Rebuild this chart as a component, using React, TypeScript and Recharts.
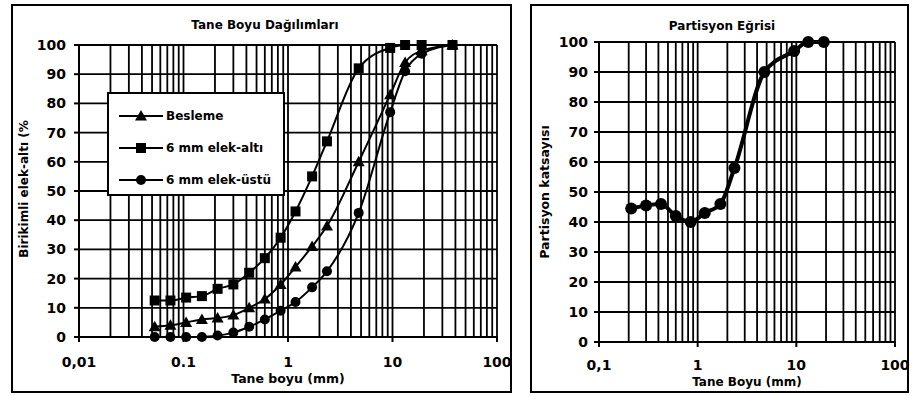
import React from "react";
import {
  LineChart,
  Line,
  XAxis,
  YAxis,
  CartesianGrid,
  Legend,
} from "recharts";

// sieve openings (mm) and cumulative passing (%)
const sieveSizes = [0.053, 0.075, 0.106, 0.15, 0.212, 0.3, 0.425, 0.6, 0.85, 1.18, 1.7, 2.36, 4.75, 9.5, 13.2, 19, 37.5];
const feedPassing = [3.5, 4, 5, 6, 6.5, 7.5, 10, 13, 18, 24, 31, 38, 60, 83, 94, 98, 100];
const undersizePassing = [12.5, 12.5, 13.5, 14, 16.5, 18, 22, 27, 34, 43, 55, 67, 92, 99, 100, 100, 100];
const oversizePassing = [0, 0, 0, 0, 0.5, 1.5, 3.5, 6, 9, 12, 17, 22.5, 42.5, 77, 91, 97, 100];

// partition curve
const partitionSizes = [0.212, 0.3, 0.425, 0.6, 0.85, 1.18, 1.7, 2.36, 4.75, 9.5, 13.2, 19];
const partitionCoef = [44.5, 45.5, 46, 42, 40, 43, 46, 58, 90, 97, 100, 100];

const leftDecades = [0.01, 0.1, 1, 10, 100];
const leftDecadeLabels = ["0,01", "0.1", "1", "10", "100"];
const rightDecades = [0.1, 1, 10, 100];
const rightDecadeLabels = ["0,1", "1", "10", "100"];
const yTicks = [0, 10, 20, 30, 40, 50, 60, 70, 80, 90, 100];

const FONT = "DejaVu Sans, Verdana, sans-serif";

const distData = sieveSizes.map((s, i) => ({
  size: s,
  feed: feedPassing[i],
  under: undersizePassing[i],
  over: oversizePassing[i],
}));
const partData = partitionSizes.map((s, i) => ({ size: s, coef: partitionCoef[i] }));

const logGrid = (decades: number[]) =>
  decades
    .slice(0, -1)
    .flatMap((d) => [1, 2, 3, 4, 5, 6, 7, 8, 9].map((k) => +(d * k).toPrecision(3)))
    .concat(decades[decades.length - 1]);

function Marker({ cx, cy, shape, size }: { cx: number; cy: number; shape: string; size: number }) {
  if (cx == null || cy == null) return null;
  const h = size / 2;
  if (shape === "square") return <rect x={cx - h} y={cy - h} width={size} height={size} fill="#000" />;
  if (shape === "triangle")
    return <polygon points={`${cx},${cy - size * 0.6} ${cx - h - 1},${cy + size * 0.45} ${cx + h + 1},${cy + size * 0.45}`} fill="#000" />;
  return <circle cx={cx} cy={cy} r={h} fill="#000" />;
}

const dotOf = (shape: string, size: number) => (p: any) =>
  <Marker key={`${shape}-${p.index}`} cx={p.cx} cy={p.cy} shape={shape} size={size} />;

function DecadeTick(props: any) {
  const { x, y, payload, decades, labels, gap } = props;
  const i = decades.findIndex((d: number) => Math.abs(d - payload.value) / d < 1e-6);
  if (i < 0) return <g />;
  const axisY = y - 8;
  return (
    <g>
      <line x1={x} x2={x} y1={axisY} y2={axisY + 5} stroke="#000" strokeWidth={2} />
      <text x={x} y={axisY + gap} textAnchor="middle" fill="#000" fontSize={14} fontWeight="bold" fontFamily={FONT}>
        {labels[i]}
      </text>
    </g>
  );
}

const legendItems = [
  { name: "Besleme", shape: "triangle" },
  { name: "6 mm elek-altı", shape: "square" },
  { name: "6 mm elek-üstü", shape: "circle" },
];

function BoxLegend() {
  return (
    <div
      style={{
        width: 178,
        height: 104,
        boxSizing: "border-box",
        border: "2px solid #000",
        background: "#fff",
        paddingTop: 6,
      }}
    >
      {legendItems.map((it) => (
        <div key={it.name} style={{ display: "flex", alignItems: "center", height: 32, paddingLeft: 8 }}>
          <svg width={48} height={16}>
            <line x1={2} x2={46} y1={8} y2={8} stroke="#000" strokeWidth={2} />
            <Marker cx={24} cy={8} shape={it.shape} size={10} />
          </svg>
          <span style={{ fontFamily: FONT, fontSize: 12, fontWeight: "bold", color: "#000", marginLeft: 1 }}>
            {it.name}
          </span>
        </div>
      ))}
    </div>
  );
}

function Caption({ x, y, size, rotate, children }: any) {
  return (
    <div
      style={{
        position: "absolute",
        left: x - 150,
        top: y - 10,
        width: 300,
        height: 20,
        lineHeight: "20px",
        textAlign: "center",
        fontFamily: FONT,
        fontSize: size,
        fontWeight: "bold",
        color: "#000",
        whiteSpace: "nowrap",
        transform: rotate ? "rotate(-90deg)" : undefined,
      }}
    >
      {children}
    </div>
  );
}

const panel = (left: number, width: number): React.CSSProperties => ({
  position: "absolute",
  left,
  top: 4,
  width,
  height: 389,
  boxSizing: "border-box",
  border: "2px solid #000",
});

const tickStyle = { fill: "#000", fontSize: 14, fontWeight: "bold", fontFamily: FONT };

export default function App() {
  const leftGrid = logGrid(leftDecades);
  const rightGrid = logGrid(rightDecades);
  return (
    <div style={{ position: "absolute", left: 0, top: 0, width: 912, height: 396, background: "#fff", overflow: "hidden" }}>
      <div style={panel(11, 501)} />
      <div style={panel(530, 379)} />

      <div style={{ position: "absolute", left: 0, top: 0 }}>
        <LineChart width={515} height={392} data={distData} margin={{ top: 45, right: 18, left: 29, bottom: 25 }}>
          <CartesianGrid stroke="#000" strokeWidth={1.8} />
          <XAxis
            dataKey="size"
            type="number"
            scale="log"
            domain={[0.01, 100]}
            allowDataOverflow
            ticks={leftGrid}
            interval={0}
            height={30}
            tickLine={false}
            tickSize={5}
            tickMargin={3}
            axisLine={{ stroke: "#000", strokeWidth: 2 }}
            tick={<DecadeTick decades={leftDecades} labels={leftDecadeLabels} gap={30} />}
          />
          <YAxis
            type="number"
            domain={[0, 100]}
            ticks={yTicks}
            interval={0}
            width={50}
            tickSize={5}
            tickMargin={8}
            tickLine={{ stroke: "#000", strokeWidth: 2 }}
            axisLine={{ stroke: "#000", strokeWidth: 2 }}
            tick={tickStyle}
          />
          <Legend
            layout="vertical"
            align="center"
            verticalAlign="middle"
            content={() => <BoxLegend />}
            wrapperStyle={{ left: 107, top: 92, width: 178, height: 104 }}
          />
          <Line dataKey="feed" name="Besleme" type="monotone" stroke="#000" strokeWidth={2} dot={dotOf("triangle", 10)} isAnimationActive={false} />
          <Line dataKey="under" name="6 mm elek-altı" type="monotone" stroke="#000" strokeWidth={2} dot={dotOf("square", 10)} isAnimationActive={false} />
          <Line dataKey="over" name="6 mm elek-üstü" type="monotone" stroke="#000" strokeWidth={2} dot={dotOf("circle", 10)} isAnimationActive={false} />
        </LineChart>
      </div>

      <div style={{ position: "absolute", left: 520, top: 0 }}>
        <LineChart width={392} height={396} data={partData} margin={{ top: 42, right: 17, left: 29, bottom: 24 }}>
          <CartesianGrid stroke="#000" strokeWidth={1.8} />
          <XAxis
            dataKey="size"
            type="number"
            scale="log"
            domain={[0.1, 100]}
            allowDataOverflow
            ticks={rightGrid}
            interval={0}
            height={30}
            tickLine={false}
            tickSize={5}
            tickMargin={3}
            axisLine={{ stroke: "#000", strokeWidth: 2 }}
            tick={<DecadeTick decades={rightDecades} labels={rightDecadeLabels} gap={28} />}
          />
          <YAxis
            type="number"
            domain={[0, 100]}
            ticks={yTicks}
            interval={0}
            width={50}
            tickSize={5}
            tickMargin={6}
            tickLine={{ stroke: "#000", strokeWidth: 2 }}
            axisLine={{ stroke: "#000", strokeWidth: 2 }}
            tick={tickStyle}
          />
          <Line dataKey="coef" name="Partisyon katsayısı" type="monotone" stroke="#000" strokeWidth={4} dot={dotOf("circle", 12)} isAnimationActive={false} />
        </LineChart>
      </div>

      <Caption x={265} y={25} size={12}>Tane Boyu Dağılımları</Caption>
      <Caption x={24} y={189} size={12} rotate>Birikimli elek-altı (%</Caption>
      <Caption x={288} y={379} size={12.5}>Tane boyu (mm)</Caption>

      <Caption x={722} y={26} size={12}>Partisyon Eğrisi</Caption>
      <Caption x={545} y={192} size={12.5} rotate>Partisyon katsayısı</Caption>
      <Caption x={747} y={382} size={12}>Tane Boyu (mm)</Caption>
    </div>
  );
}
